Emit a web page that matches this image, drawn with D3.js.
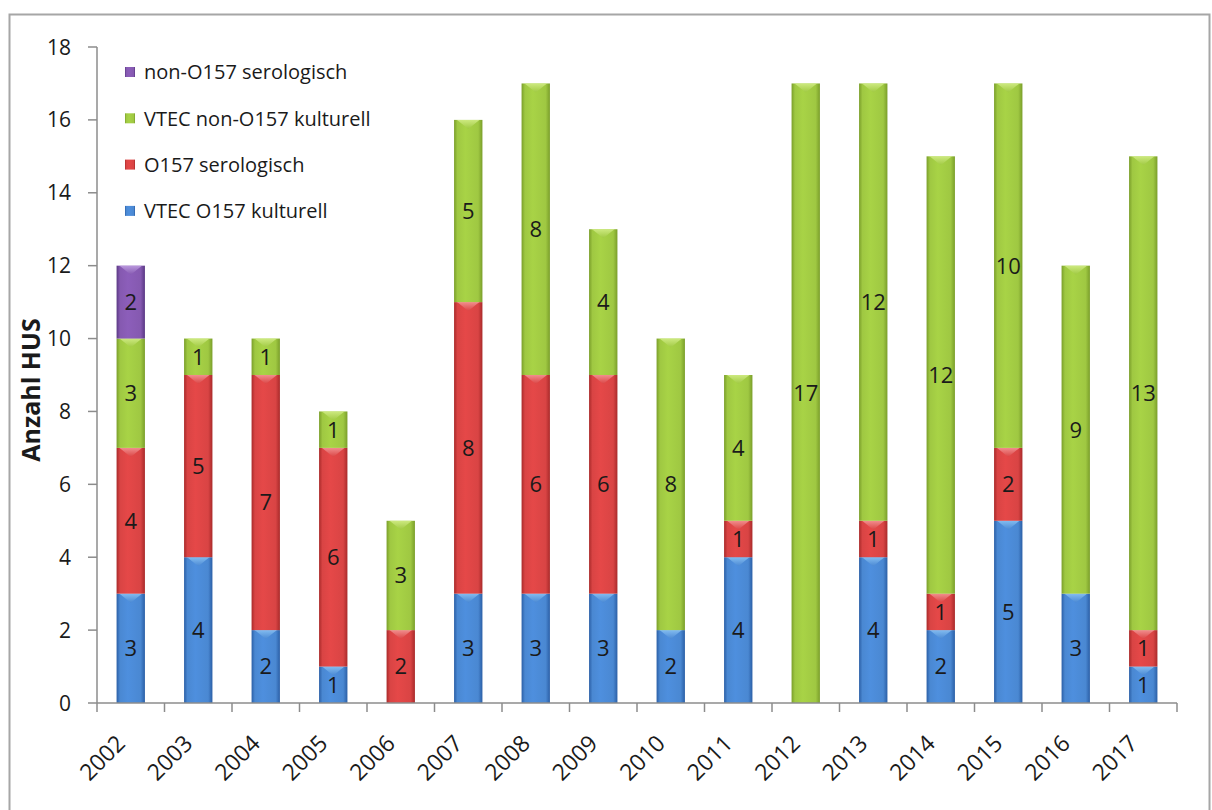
<!DOCTYPE html>
<html>
<head>
<meta charset="utf-8">
<script src="https://cdn.jsdelivr.net/npm/d3@7"></script>
<style>
  html, body { margin: 0; padding: 0; background: #fff; }
  svg { display: block; }
  text { font-family: "Open Sans", Lato, sans-serif; fill: #1a1a1a; }
</style>
</head>
<body>
<svg id="chart" width="1212" height="810"></svg>
<script>
// HUS cases per year, split by diagnostic category
const years = ["2002","2003","2004","2005","2006","2007","2008","2009","2010","2011","2012","2013","2014","2015","2016","2017"];
const vtecO157Kulturell   = [3, 4, 2, 1, 0, 3, 3, 3, 2, 4, 0, 4, 2, 5, 3, 1];
const o157Serologisch     = [4, 5, 7, 6, 2, 8, 6, 6, 0, 1, 0, 1, 1, 2, 0, 1];
const vtecNonO157Kulturell= [3, 1, 1, 1, 3, 5, 8, 4, 8, 4, 17, 12, 12, 10, 9, 13];
const nonO157Serologisch  = [2, 0, 0, 0, 0, 0, 0, 0, 0, 0, 0, 0, 0, 0, 0, 0];
const yTicks = [0, 2, 4, 6, 8, 10, 12, 14, 16, 18];
const yTitle = "Anzahl HUS";

const series = [
  { key: "VTEC O157 kulturell",      values: vtecO157Kulturell,    edge: "#2b5fa6", mid: "#4a88d2", cap: "#8cc4f4" },
  { key: "O157 serologisch",         values: o157Serologisch,      edge: "#a92a2a", mid: "#d94444", cap: "#f49a9a" },
  { key: "VTEC non-O157 kulturell",  values: vtecNonO157Kulturell, edge: "#7a9e2a", mid: "#9fc842", cap: "#d4ee8a" },
  { key: "non-O157 serologisch",     values: nonO157Serologisch,   edge: "#5a3884", mid: "#8559b0", cap: "#c2a2e4" }
];

const rows = years.map((yr, i) => {
  const r = { year: yr };
  series.forEach(s => { r[s.key] = s.values[i]; });
  return r;
});

const svg = d3.select("#chart");

// outer frame
svg.append("rect")
  .attr("x", 9.5).attr("y", 14.5).attr("width", 1200).attr("height", 820)
  .attr("fill", "none").attr("stroke", "#a6a6a6").attr("stroke-width", 2);

const plotLeft = 97, plotRight = 1177, plotTop = 47, plotBottom = 703;

const x = d3.scaleBand().domain(years).range([plotLeft, plotRight]).paddingInner(0.58).paddingOuter(0.29);
const y = d3.scaleLinear().domain([0, 18]).range([plotBottom, plotTop]);

// gradients
const defs = svg.append("defs");
series.forEach((s, i) => {
  const g = defs.append("linearGradient").attr("id", "grad" + i)
    .attr("x1", "0%").attr("x2", "100%").attr("y1", "0%").attr("y2", "0%");
  g.append("stop").attr("offset", "0%").attr("stop-color", s.edge);
  g.append("stop").attr("offset", "12%").attr("stop-color", s.mid);
  g.append("stop").attr("offset", "40%").attr("stop-color", d3.color(s.mid).brighter(0.15));
  g.append("stop").attr("offset", "85%").attr("stop-color", s.mid);
  g.append("stop").attr("offset", "100%").attr("stop-color", s.edge);
  const c = defs.append("linearGradient").attr("id", "cap" + i)
    .attr("x1", "0%").attr("x2", "0%").attr("y1", "0%").attr("y2", "100%");
  c.append("stop").attr("offset", "0%").attr("stop-color", s.cap);
  c.append("stop").attr("offset", "100%").attr("stop-color", s.mid);
});

const stack = d3.stack().keys(series.map(s => s.key));
const stacked = stack(rows);

// axes
const axisColor = "#8c8c8c";
const yAxis = svg.append("g");
yAxis.append("line").attr("x1", plotLeft).attr("x2", plotLeft).attr("y1", y(0)).attr("y2", y(18))
  .attr("stroke", axisColor).attr("stroke-width", 1.5);
yTicks.forEach(t => {
  yAxis.append("line").attr("x1", plotLeft - 9).attr("x2", plotLeft).attr("y1", y(t)).attr("y2", y(t))
    .attr("stroke", axisColor).attr("stroke-width", 1.5);
  yAxis.append("text").attr("x", plotLeft - 26).attr("y", y(t)).attr("dy", "0.36em")
    .attr("text-anchor", "end").attr("font-size", 21).text(t);
});

const layers = svg.append("g");
stacked.forEach((layer, li) => {
  const g = layers.append("g");
  layer.forEach((d, i) => {
    const v = d[1] - d[0];
    if (v <= 0) return;
    const bx = x(years[i]), bw = x.bandwidth();
    const y0 = y(d[0]), y1 = y(d[1]);
    g.append("rect").attr("x", bx).attr("y", y1).attr("width", bw).attr("height", y0 - y1)
      .attr("fill", `url(#grad${li})`);
    // bevelled cap on top of each segment
    const ch = Math.min(9, (y0 - y1) * 0.5);
    g.append("path")
      .attr("d", `M${bx + 3},${y1} L${bx + bw - 3},${y1} L${bx + bw / 2},${y1 + ch} Z`)
      .attr("fill", `url(#cap${li})`).attr("opacity", 0.85);
    g.append("text").attr("x", bx + bw / 2).attr("y", (y0 + y1) / 2).attr("dy", "0.36em")
      .attr("text-anchor", "middle").attr("font-size", 22).text(v);
  });
});

// x axis
const xAxis = svg.append("g");
xAxis.append("line").attr("x1", plotLeft).attr("x2", plotRight).attr("y1", y(0)).attr("y2", y(0))
  .attr("stroke", axisColor).attr("stroke-width", 1.5);
const gap = (x.step() - x.bandwidth()) / 2;
years.concat([null]).forEach(yr => {
  const bx = yr ? x(yr) - gap : x(years[years.length - 1]) + x.bandwidth() + gap;
  xAxis.append("line").attr("x1", bx).attr("x2", bx).attr("y1", y(0)).attr("y2", y(0) + 9)
    .attr("stroke", axisColor).attr("stroke-width", 1.5);
});
years.forEach(yr => {
  const cx = x(yr) + x.bandwidth() / 2 - 10;
  const cy = y(0) + 36;
  xAxis.append("text")
    .attr("transform", `translate(${cx},${cy}) rotate(-45)`)
    .attr("text-anchor", "end").attr("dy", "0.36em").attr("font-size", 23).text(yr);
});

// y title
svg.append("text")
  .attr("transform", `translate(40,390) rotate(-90)`)
  .attr("text-anchor", "middle").attr("font-size", 25).attr("font-weight", "bold")
  .attr("font-family", "'Liberation Sans', Arial, sans-serif").text(yTitle);

// legend
const legend = svg.append("g");
series.slice().reverse().forEach((s, i) => {
  const ly = 72 + i * 46.3;
  const li = series.indexOf(s);
  legend.append("rect").attr("x", 125).attr("y", ly - 5).attr("width", 10).attr("height", 10)
    .attr("fill", `url(#grad${li})`);
  legend.append("text").attr("x", 144).attr("y", ly).attr("dy", "0.36em")
    .attr("font-size", 20).text(s.key);
});
</script>
</body>
</html>
